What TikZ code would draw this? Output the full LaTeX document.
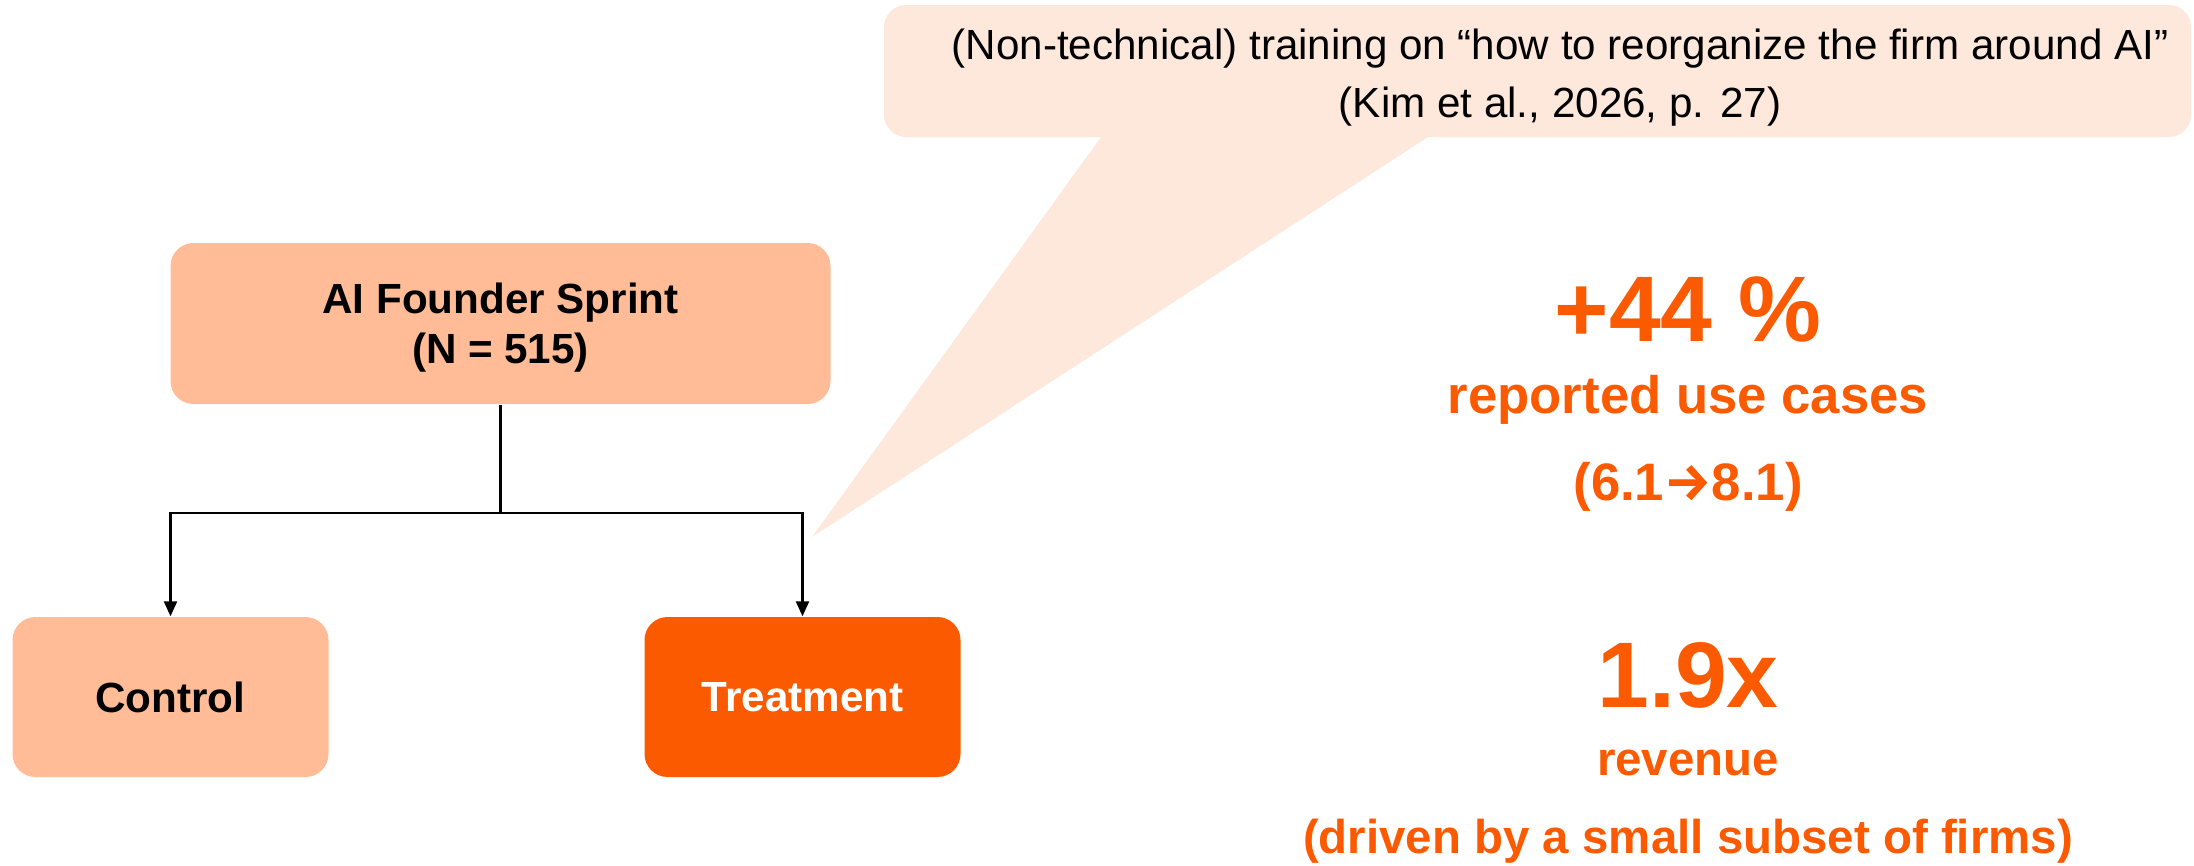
\documentclass[tikz,border=0pt]{standalone}
\usepackage{fontspec}
\setsansfont{Liberation Sans}
\newfontfamily\arrowfont{Fira Sans}
\usepackage{tikz}
\usetikzlibrary{positioning, arrows.meta, calc}
\definecolor{AI_Peach}{HTML}{FFBC96}
\definecolor{AI_Orange}{HTML}{FC5A00}
\definecolor{AI_Blush}{HTML}{FEE8DC}

\begin{document}
\begin{tikzpicture}[
  every node/.style={font=\sffamily},
  box/.style={fill=AI_Peach, rounded corners=0.23cm, minimum width=3.16cm,
    minimum height=1.6cm, text depth=0pt, align=center,
    font=\sffamily\bfseries\fontsize{12}{14.2}\selectfont},
  notebox/.style={fill=AI_Blush, rounded corners=0.22cm, minimum width=13.07cm,
    minimum height=1.32cm},
  bignum/.style={AI_Orange, anchor=base, font=\sffamily\bfseries\fontsize{26.5}{30}\selectfont},
  sublbl/.style={AI_Orange, anchor=base, font=\sffamily\bfseries\fontsize{15}{18}\selectfont},
  smalllbl/.style={AI_Orange, anchor=base, font=\sffamily\bfseries\fontsize{13.5}{16}\selectfont},
  arr/.style={-{Triangle[length=0.15cm, width=0.13cm]}, line width=0.65pt}
]
  \useasboundingbox (0,0) rectangle (21.94,-8.65);

  % Callout (speech bubble pointing at the treatment arm)
  \node[notebox] (note) at (15.375,-0.71) {};
  \coordinate (tip) at (8.12,-5.37);
  \fill[AI_Blush] ([xshift=-4.355cm, yshift=0.02cm]note.south) -- (tip)
    -- ([xshift=-1.075cm, yshift=0.02cm]note.south) -- cycle;
  \node[align=center, font=\sffamily\fontsize{12}{16.5}\selectfont] (notetext) at (15.6,-0.78)
    {(Non-technical) training on “how to reorganize the firm around AI”\\(Kim et al., 2026, p. 27)};

  % Experiment boxes
  \node[box, minimum width=6.6cm, minimum height=1.61cm] (sprint) at (5.005,-3.235)
    {AI Founder Sprint\\(N = 515)};
  \node[box] (control) at (1.705,-6.97) {Control};
  \node[box, fill=AI_Orange, text=white] (treat) at (8.025,-6.97) {Treatment};

  % Split into the two arms
  \coordinate (split) at ($(sprint.south)+(0,-1.08)$);
  \draw[line width=0.65pt] (sprint.south) -- (split);
  \draw[arr] (split) -| (control.north);
  \draw[arr] (split) -| (treat.north);

  % Results
  \node[bignum] (gain) at (16.88,-3.41) {+44 \%};
  \node[sublbl] (usecases) at (16.88,-4.13) {reported use cases};
  \node[sublbl] (change) at (16.88,-5.00) {(6.1{\arrowfont\bfseries →}8.1)};
  \node[bignum] (rev) at (16.88,-7.07) {1.9x};
  \node[smalllbl] (revlbl) at (16.88,-7.75) {revenue};
  \node[smalllbl] (driver) at (16.88,-8.53) {(driven by a small subset of firms)};
\end{tikzpicture}
\end{document}
